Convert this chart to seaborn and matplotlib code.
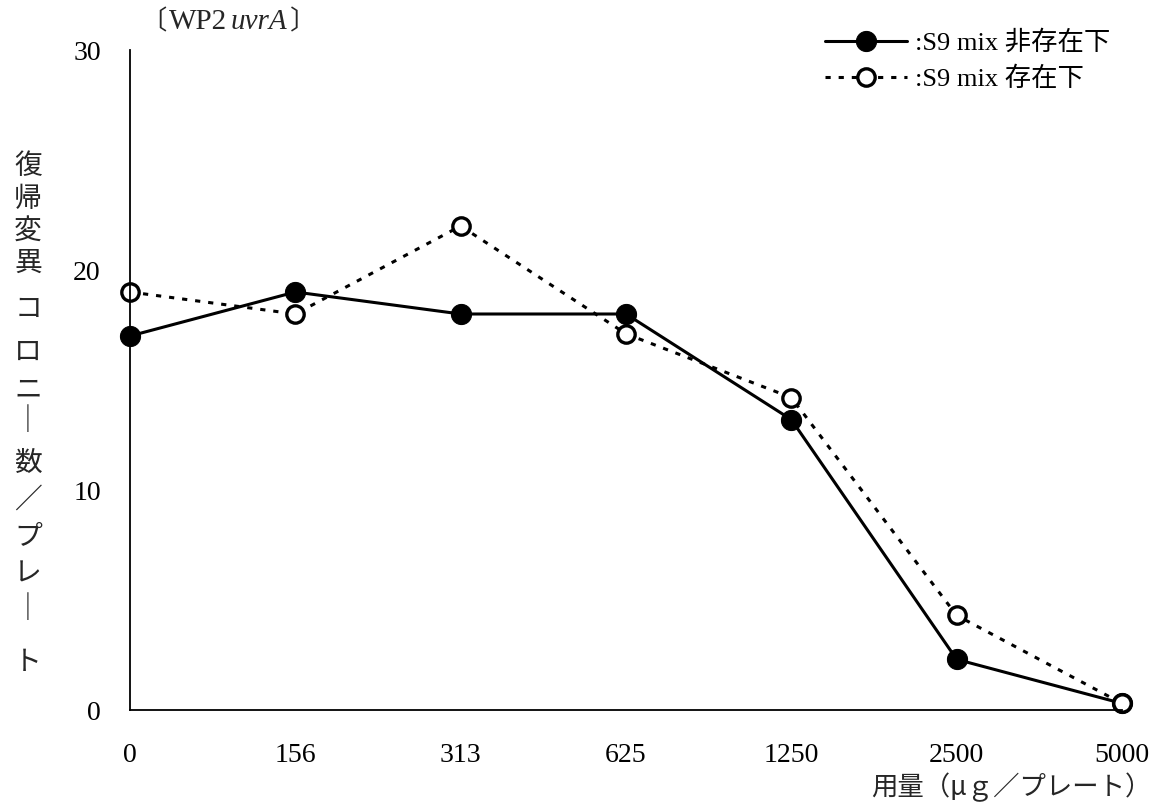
import matplotlib
matplotlib.use("Agg")
import matplotlib.pyplot as plt
from matplotlib.offsetbox import TextArea, HPacker, AnnotationBbox
import seaborn as sns
import pandas as pd

# dose levels (ug/plate) and revertant colonies per plate
doses = ["0", "156", "313", "625", "1250", "2500", "5000"]
without_s9 = [17, 19, 18, 18, 13.2, 2.3, 0.3]
with_s9 = [19, 18, 22, 17.1, 14.2, 4.3, 0.3]
label_without = ":S9 mix 非存在下"
label_with = ":S9 mix 存在下"
y_ticks = [0, 10, 20, 30]

sns.set_theme(style="white")
plt.rcParams["font.family"] = ["Liberation Serif", "Noto Sans CJK JP", "DejaVu Sans"]

W, H = 1158, 808
fig = plt.figure(figsize=(W / 100, H / 100), dpi=100)
ax = fig.add_axes([130 / W, 1 - 710 / H, 992 / W, 660 / H])

pos = list(range(len(doses)))
d1 = pd.DataFrame({"pos": pos, "count": without_s9})
d2 = pd.DataFrame({"pos": pos, "count": with_s9})

sns.lineplot(data=d1, x="pos", y="count", ax=ax, color="black", lw=2.2,
             marker="o", markersize=14.5, markerfacecolor="black",
             markeredgecolor="black", label=label_without, clip_on=False)
sns.lineplot(data=d2, x="pos", y="count", ax=ax, color="black", lw=2.2,
             linestyle=(0, (1.7, 2.6)), marker="o", markersize=12.5,
             markerfacecolor="white", markeredgecolor="black",
             markeredgewidth=2.4, label=label_with, clip_on=False)

ax.set_xlim(0, len(doses) - 1)
ax.set_ylim(0, 30)
ax.set_xticks(pos)
ax.set_xticklabels(doses)
ax.set_yticks(y_ticks)
ax.tick_params(axis="both", direction="in", length=10, width=1.2,
               labelsize=20, colors="black")
ax.tick_params(axis="x", pad=24)
ax.tick_params(axis="y", pad=21)
for s in ["top", "right"]:
    ax.spines[s].set_visible(False)
for s in ["left", "bottom"]:
    ax.spines[s].set_color("black")
    ax.spines[s].set_linewidth(1.3)
ax.set_xlabel("")
ax.set_ylabel("")

leg = ax.legend(loc="upper right", bbox_to_anchor=(0.988, 1.03), frameon=False,
                fontsize=19, handlelength=3.1, handletextpad=0.3,
                labelspacing=0.45, borderaxespad=0, borderpad=0)
for t in leg.get_texts():
    t.set_color("black")

# strain label: 〔WP2 uvrA〕
cjk = ["Noto Sans CJK JP"]
serif = ["Liberation Serif"]
parts = [
    TextArea("〔", textprops=dict(fontsize=19, family=cjk)),
    TextArea("WP2", textprops=dict(fontsize=21, family=serif)),
    TextArea("uvrA", textprops=dict(fontsize=21, family=serif, style="italic")),
    TextArea("〕", textprops=dict(fontsize=19, family=cjk)),
]
box = HPacker(children=parts, align="center", pad=0, sep=2)
ab = AnnotationBbox(box, (140 / W, 1 - 22 / H), xycoords="figure fraction",
                    box_alignment=(0, 0.5), frameon=False)
fig.add_artist(ab)

# vertical y-axis label
ylab = "復帰変異コロニ｜数／プレ｜ト"
ylab_y = [166, 199, 231, 263, 309, 352, 389, 421, 463, 500, 536, 574, 609, 662]
for ch, yy in zip(ylab, ylab_y):
    fig.text(28 / W, 1 - yy / H, ch, fontsize=20, ha="center", va="center",
             family=cjk)

fig.text(1152 / W, 1 - 787 / H, "用量（μｇ／プレート）", fontsize=19,
         ha="right", va="center", family=cjk)

fig.savefig("out.png", dpi=100)
